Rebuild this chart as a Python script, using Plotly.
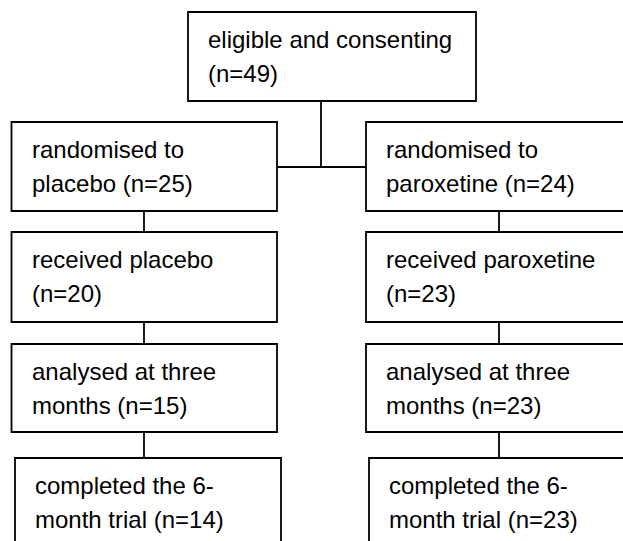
import plotly.graph_objects as go

# ---- data ----
eligible_n = 49
arms = ["placebo", "paroxetine"]
placebo_n = [25, 20, 15, 14]
paroxetine_n = [24, 23, 23, 23]

top_lines = ["eligible and consenting", f"(n={eligible_n})"]
placebo_lines = [
    ["randomised to", f"placebo (n={placebo_n[0]})"],
    ["received placebo", f"(n={placebo_n[1]})"],
    ["analysed at three", f"months (n={placebo_n[2]})"],
    ["completed the 6-", f"month trial (n={placebo_n[3]})"],
]
paroxetine_lines = [
    ["randomised to", f"paroxetine (n={paroxetine_n[0]})"],
    ["received paroxetine", f"(n={paroxetine_n[1]})"],
    ["analysed at three", f"months (n={paroxetine_n[2]})"],
    ["completed the 6-", f"month trial (n={paroxetine_n[3]})"],
]

# ---- layout geometry (page pixels) ----
W, H = 623, 541
FONT = dict(family="Liberation Sans, Arial, sans-serif", size=24, color="black")
LINE = dict(color="black", width=1.8)

top_box = (188, 476, 12, 101)
rows_y = [(122, 211), (232, 322), (344, 432), (458, 570)]
left_x = [(11.5, 277), (11.5, 277), (11.5, 277), (15, 281)]
right_x = [(366, 660), (366, 660), (366, 660), (369, 660)]
left_cx, right_cx, mid_cx = 144, 499, 321
split_y = 167

shapes = []
annotations = []


def add_box(x0, x1, y0, y1, lines):
    shapes.append(dict(type="rect", xref="x", yref="y", x0=x0, x1=x1, y0=y0, y1=y1,
                       line=LINE, fillcolor="rgba(0,0,0,0)"))
    for i, t in enumerate(lines):
        baseline = y0 + 35.5 + 34 * i
        annotations.append(dict(x=x0 + 18, y=baseline - 0.35 * FONT["size"], xref="x", yref="y",
                                text=t, showarrow=False, xanchor="left", yanchor="middle",
                                font=FONT, align="left"))


def add_line(x0, y0, x1, y1):
    shapes.append(dict(type="line", xref="x", yref="y", x0=x0, x1=x1, y0=y0, y1=y1, line=LINE))


add_box(*top_box, top_lines)
for i in range(4):
    add_box(left_x[i][0], left_x[i][1], rows_y[i][0], rows_y[i][1], placebo_lines[i])
    add_box(right_x[i][0], right_x[i][1], rows_y[i][0], rows_y[i][1], paroxetine_lines[i])

# connectors
add_line(mid_cx, top_box[3], mid_cx, split_y)
add_line(left_x[0][1], split_y, right_x[0][0], split_y)
for i in range(3):
    add_line(left_cx, rows_y[i][1], left_cx, rows_y[i + 1][0])
    add_line(right_cx, rows_y[i][1], right_cx, rows_y[i + 1][0])

fig = go.Figure()
fig.add_trace(go.Scatter(x=[0, W], y=[0, H], mode="markers",
                         marker=dict(opacity=0), hoverinfo="skip", showlegend=False))
fig.update_layout(
    width=W, height=H,
    margin=dict(l=0, r=0, t=0, b=0),
    paper_bgcolor="white", plot_bgcolor="white",
    shapes=shapes, annotations=annotations,
    xaxis=dict(range=[0, W], visible=False, fixedrange=True),
    yaxis=dict(range=[H, 0], visible=False, fixedrange=True),
    showlegend=False,
)
fig.write_html(
    "out.html",
    config=dict(displayModeBar=False, staticPlot=True),
    post_script="document.body.style.margin='0';document.body.style.overflow='hidden';",
)
